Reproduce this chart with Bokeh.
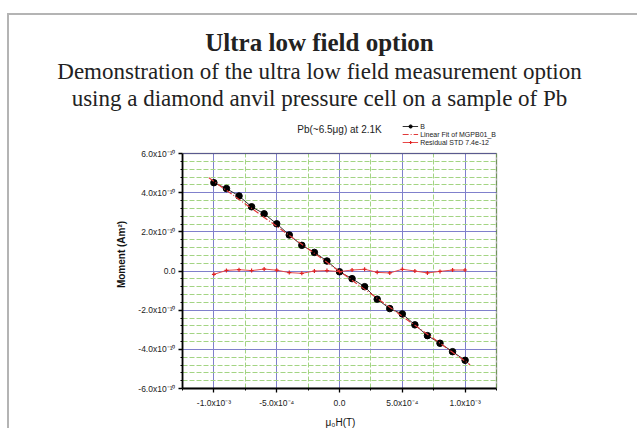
from bokeh.plotting import figure
from bokeh.layouts import column
from bokeh.models import (FixedTicker, Label, BoxAnnotation, Legend, LegendItem, Range1d, Div)
from bokeh.embed import file_html
from bokeh.resources import INLINE

# ---- data ----
field = [-1.0e-3, -9e-4, -8e-4, -7e-4, -6e-4, -5e-4, -4e-4, -3e-4, -2e-4, -1e-4, 0.0,
         1e-4, 2e-4, 3e-4, 4e-4, 5e-4, 6e-4, 7e-4, 8e-4, 9e-4, 1.0e-3]
moment_b = [4.51e-10, 4.21e-10, 3.83e-10, 3.28e-10, 2.92e-10, 2.41e-10, 1.84e-10, 1.31e-10,
            0.95e-10, 0.51e-10, -0.04e-10, -0.39e-10, -0.80e-10, -1.44e-10, -1.92e-10,
            -2.19e-10, -2.75e-10, -3.30e-10, -3.69e-10, -4.12e-10, -4.56e-10]
residual = [-0.17e-10, 0.03e-10, 0.07e-10, 0.02e-10, 0.10e-10, 0.04e-10, -0.08e-10, -0.12e-10,
            0.00, 0.02e-10, -0.03e-10, 0.05e-10, 0.09e-10, -0.07e-10, -0.10e-10, 0.09e-10,
            0.00, -0.10e-10, -0.02e-10, 0.05e-10, 0.05e-10]
fit_field = [-1.04e-3, 1.04e-3]
fit_moment = [4.76e-10, -4.79e-10]

x_ticks = [-1.0e-3, -5e-4, 0.0, 5e-4, 1.0e-3]
x_tick_labels = ["-1.0x10\u207b\u00b3", "-5.0x10\u207b\u2074", "0.0", "5.0x10\u207b\u2074", "1.0x10\u207b\u00b3"]
x_minor = [-1.25e-3, -7.5e-4, -2.5e-4, 2.5e-4, 7.5e-4, 1.25e-3]
y_ticks = [-6e-10, -4e-10, -2e-10, 0.0, 2e-10, 4e-10, 6e-10]
y_tick_labels = ["-6.0x10\u207b\u00b9\u2070", "-4.0x10\u207b\u00b9\u2070", "-2.0x10\u207b\u00b9\u2070", "0.0",
                 "2.0x10\u207b\u00b9\u2070", "4.0x10\u207b\u00b9\u2070", "6.0x10\u207b\u00b9\u2070"]
y_minor = [a + k * (b - a) / 5 for a, b in zip(y_ticks[:-1], y_ticks[1:]) for k in range(1, 5)]
x_lim = (-1.25e-3, 1.25e-3)
y_lim = (-6e-10, 6e-10)

title = "Ultra low field option"
subtitle1 = "Demonstration of the ultra low field measurement option"
subtitle2 = "using a diamond anvil pressure cell on a sample of Pb"
plot_title = "Pb(~6.5\u03bcg) at 2.1K"
x_label = "\u03bc\u2080H(T)"
y_label = "Moment (Am\u00b2)"
legend_labels = ["B", "Linear Fit of MGPB01_B", "Residual STD 7.4e-12"]

# ---- header ----
header = Div(text=(
    '<div style="width:621px;text-align:center;font-family:\'Liberation Serif\',serif;color:#222;">'
    f'<div style="font-size:25px;font-weight:bold;line-height:27px;padding-top:14px;">{title}</div>'
    f'<div style="font-size:23px;line-height:27px;margin-top:2px;">{subtitle1}</div>'
    f'<div style="font-size:23px;line-height:27px;">{subtitle2}</div>'
    '</div>'), width=621, height=103, margin=0)

# ---- figure ----
W, H = 630, 312
frame_px_w, frame_px_h = 316, 235         # chart box size in pixels
x_end = x_lim[1] + 2 / frame_px_w * (x_lim[1] - x_lim[0])
y_end = y_lim[1] + 33 / frame_px_h * (y_lim[1] - y_lim[0])
p = figure(width=W, height=H, output_backend="svg", toolbar_location=None,
           x_range=Range1d(x_lim[0], x_end), y_range=Range1d(y_lim[0], y_end),
           min_border_left=173, min_border_right=W - 173 - 318, min_border_top=2,
           min_border_bottom=H - 2 - 268, margin=0)
p.border_fill_color = "white"
p.background_fill_color = "white"
p.outline_line_color = None

p.xaxis.ticker = FixedTicker(ticks=x_ticks, minor_ticks=x_minor)
p.yaxis.ticker = FixedTicker(ticks=y_ticks, minor_ticks=y_minor)
p.xgrid.ticker = FixedTicker(ticks=x_ticks, minor_ticks=x_minor)
p.ygrid.ticker = FixedTicker(ticks=y_ticks, minor_ticks=y_minor)
p.xaxis.major_label_overrides = dict(zip(x_ticks, x_tick_labels))
p.yaxis.major_label_overrides = dict(zip(y_ticks, y_tick_labels))
p.xaxis.bounds = x_lim
p.yaxis.bounds = y_lim

for ax in (p.xaxis, p.yaxis):
    ax.axis_line_width = 1.8
    ax.axis_line_color = "black"
    ax.major_tick_in = 0
    ax.major_tick_out = 4
    ax.minor_tick_in = 0
    ax.minor_tick_out = 2
    ax.major_tick_line_width = 1.3
    ax.minor_tick_line_width = 1
    ax.major_label_text_font = "Liberation Sans"
    ax.major_label_text_font_size = "8.5px"
    ax.major_label_text_color = "#222222"
    ax.axis_label_text_font = "Liberation Sans"
    ax.axis_label_text_font_size = "10px"
    ax.axis_label_text_color = "#111111"
p.yaxis.major_label_standoff = 3
p.xaxis.major_label_standoff = 5
p.yaxis.axis_label = y_label
p.yaxis.axis_label_text_font_style = "bold"
p.yaxis.axis_label_standoff = 8
p.xaxis.axis_label = x_label
p.xaxis.axis_label_text_font_style = "normal"
p.xaxis.axis_label_standoff = 6

xg, yg = p.xgrid[0], p.ygrid[0]
xg.bounds = x_lim
yg.bounds = y_lim
if "cross_bounds" in xg.properties():
    xg.cross_bounds = y_lim
    yg.cross_bounds = x_lim
for g in (xg, yg):
    g.grid_line_color = "#8080cc"
    g.grid_line_width = 1
    g.minor_grid_line_color = "#a3d483"
    g.minor_grid_line_dash = "5 2"
    g.minor_grid_line_width = 1

# chart box
box = BoxAnnotation(left=x_lim[0], right=x_lim[1], bottom=y_lim[0], top=y_lim[1],
                    fill_alpha=0, line_color="black", line_width=1.5)
p.add_layout(box)

# glyphs
r_b_line = p.line(field, moment_b, line_color="#333333", line_width=1)
r_b_pts = p.scatter(field, moment_b, size=6.5, fill_color="black", line_color="black")
r_fit = p.line(fit_field, fit_moment, line_color="#e03a3a", line_width=1.2, line_dash="6 2 1 2")
r_res_line = p.line(field, residual, line_color="#e84848", line_width=1)
r_res_pts = p.scatter(field, residual, marker="cross", size=4, line_color="#e02020", line_width=1.2)

legend = Legend(items=[LegendItem(label=legend_labels[0], renderers=[r_b_line, r_b_pts]),
                       LegendItem(label=legend_labels[1], renderers=[r_fit]),
                       LegendItem(label=legend_labels[2], renderers=[r_res_line, r_res_pts])],
                location="top_right", label_text_font="Liberation Sans", label_text_font_size="7px",
                label_text_color="#222222",
                glyph_width=16, glyph_height=8, label_height=8, spacing=0, padding=0, margin=2,
                border_line_alpha=0, background_fill_alpha=0, label_standoff=2)
p.add_layout(legend)

p.add_layout(Label(x=0.0, y=y_lim[1] + 24 / frame_px_h * (y_lim[1] - y_lim[0]), text=plot_title,
                   text_font="Liberation Sans", text_font_size="10px", text_align="center",
                   text_baseline="middle", text_color="#222222"))

layout = column(header, p, spacing=0, width=630, height=415,
                styles={"border-left": "2px solid #b4b4b4", "border-top": "2px solid #b4b4b4",
                        "margin-left": "7px", "margin-top": "13px", "overflow": "hidden"})

open("out.html", "w").write(file_html(layout, INLINE))
